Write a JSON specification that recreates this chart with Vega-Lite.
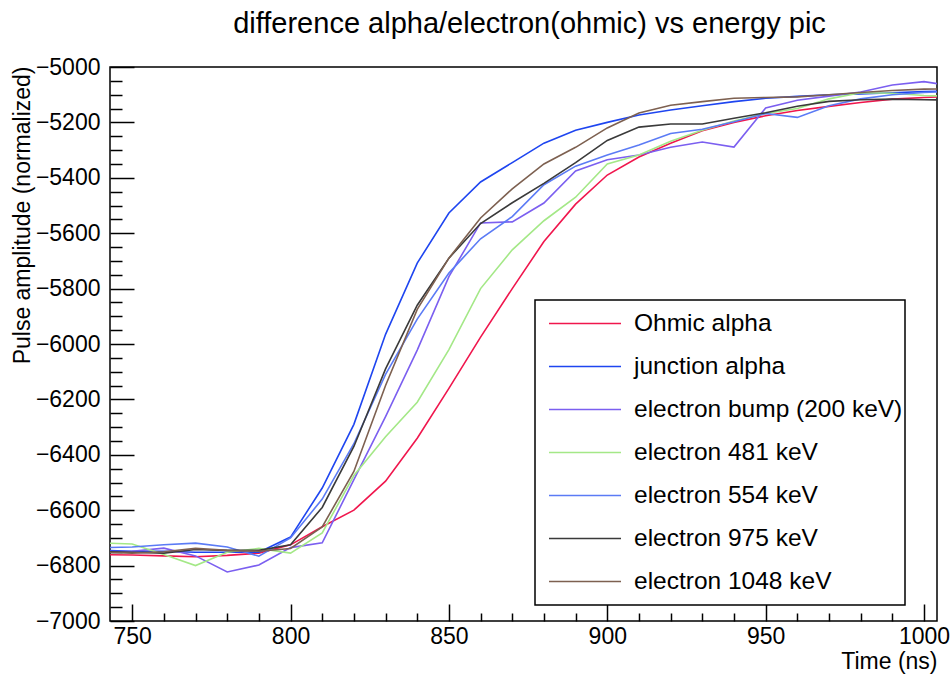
{
  "$schema": "https://vega.github.io/schema/vega-lite/v6.json",
  "width": 827,
  "height": 554,
  "autosize": {"type": "none"},
  "padding": {"left": 110, "top": 67, "right": 14, "bottom": 53},
  "background": "white",
  "title": {"text": "difference alpha/electron(ohmic) vs energy pic", "font": "Liberation Sans", "fontSize": 29, "fontWeight": "normal", "color": "black", "anchor": "middle", "offset": 17, "dx": 6},
  "config": {"view": {"stroke": "black", "strokeWidth": 1.5}, "font": "Liberation Sans"},
  "data": {"values": [
    {"t": 740, "Ohmic alpha": -6760, "junction alpha": -6745, "electron bump (200 keV)": -6750, "electron 481 keV": -6718, "electron 554 keV": -6735, "electron 975 keV": -6750, "electron 1048 keV": -6752},
    {"t": 750, "Ohmic alpha": -6762, "junction alpha": -6748, "electron bump (200 keV)": -6748, "electron 481 keV": -6722, "electron 554 keV": -6733, "electron 975 keV": -6752, "electron 1048 keV": -6755},
    {"t": 760, "Ohmic alpha": -6765, "junction alpha": -6748, "electron bump (200 keV)": -6737, "electron 481 keV": -6760, "electron 554 keV": -6725, "electron 975 keV": -6755, "electron 1048 keV": -6750},
    {"t": 770, "Ohmic alpha": -6768, "junction alpha": -6752, "electron bump (200 keV)": -6765, "electron 481 keV": -6800, "electron 554 keV": -6719, "electron 975 keV": -6742, "electron 1048 keV": -6738},
    {"t": 780, "Ohmic alpha": -6763, "junction alpha": -6752, "electron bump (200 keV)": -6823, "electron 481 keV": -6752, "electron 554 keV": -6733, "electron 975 keV": -6745, "electron 1048 keV": -6745},
    {"t": 790, "Ohmic alpha": -6755, "junction alpha": -6752, "electron bump (200 keV)": -6798, "electron 481 keV": -6738, "electron 554 keV": -6766, "electron 975 keV": -6745, "electron 1048 keV": -6748},
    {"t": 800, "Ohmic alpha": -6725, "junction alpha": -6697, "electron bump (200 keV)": -6735, "electron 481 keV": -6755, "electron 554 keV": -6700, "electron 975 keV": -6725, "electron 1048 keV": -6738},
    {"t": 810, "Ohmic alpha": -6660, "junction alpha": -6520, "electron bump (200 keV)": -6718, "electron 481 keV": -6682, "electron 554 keV": -6560, "electron 975 keV": -6590, "electron 1048 keV": -6660},
    {"t": 820, "Ohmic alpha": -6600, "junction alpha": -6290, "electron bump (200 keV)": -6490, "electron 481 keV": -6475, "electron 554 keV": -6360, "electron 975 keV": -6370, "electron 1048 keV": -6460},
    {"t": 830, "Ohmic alpha": -6495, "junction alpha": -5965, "electron bump (200 keV)": -6262, "electron 481 keV": -6335, "electron 554 keV": -6110, "electron 975 keV": -6090, "electron 1048 keV": -6150},
    {"t": 840, "Ohmic alpha": -6340, "junction alpha": -5708, "electron bump (200 keV)": -6022, "electron 481 keV": -6210, "electron 554 keV": -5910, "electron 975 keV": -5860, "electron 1048 keV": -5875},
    {"t": 850, "Ohmic alpha": -6160, "junction alpha": -5527, "electron bump (200 keV)": -5757, "electron 481 keV": -6020, "electron 554 keV": -5744, "electron 975 keV": -5690, "electron 1048 keV": -5690},
    {"t": 860, "Ohmic alpha": -5975, "junction alpha": -5415, "electron bump (200 keV)": -5563, "electron 481 keV": -5800, "electron 554 keV": -5620, "electron 975 keV": -5565, "electron 1048 keV": -5545},
    {"t": 870, "Ohmic alpha": -5800, "junction alpha": -5345, "electron bump (200 keV)": -5559, "electron 481 keV": -5660, "electron 554 keV": -5540, "electron 975 keV": -5490, "electron 1048 keV": -5440},
    {"t": 880, "Ohmic alpha": -5630, "junction alpha": -5275, "electron bump (200 keV)": -5491, "electron 481 keV": -5555, "electron 554 keV": -5425, "electron 975 keV": -5420, "electron 1048 keV": -5350},
    {"t": 890, "Ohmic alpha": -5495, "junction alpha": -5228, "electron bump (200 keV)": -5375, "electron 481 keV": -5470, "electron 554 keV": -5358, "electron 975 keV": -5345, "electron 1048 keV": -5290},
    {"t": 900, "Ohmic alpha": -5390, "junction alpha": -5200, "electron bump (200 keV)": -5335, "electron 481 keV": -5350, "electron 554 keV": -5318, "electron 975 keV": -5265, "electron 1048 keV": -5220},
    {"t": 910, "Ohmic alpha": -5325, "junction alpha": -5173, "electron bump (200 keV)": -5318, "electron 481 keV": -5318, "electron 554 keV": -5282, "electron 975 keV": -5217, "electron 1048 keV": -5166},
    {"t": 920, "Ohmic alpha": -5275, "junction alpha": -5155, "electron bump (200 keV)": -5290, "electron 481 keV": -5268, "electron 554 keV": -5240, "electron 975 keV": -5206, "electron 1048 keV": -5138},
    {"t": 930, "Ohmic alpha": -5230, "junction alpha": -5140, "electron bump (200 keV)": -5271, "electron 481 keV": -5228, "electron 554 keV": -5225, "electron 975 keV": -5206, "electron 1048 keV": -5125},
    {"t": 940, "Ohmic alpha": -5200, "junction alpha": -5125, "electron bump (200 keV)": -5289, "electron 481 keV": -5195, "electron 554 keV": -5198, "electron 975 keV": -5185, "electron 1048 keV": -5113},
    {"t": 950, "Ohmic alpha": -5176, "junction alpha": -5113, "electron bump (200 keV)": -5148, "electron 481 keV": -5168, "electron 554 keV": -5168, "electron 975 keV": -5165, "electron 1048 keV": -5110},
    {"t": 960, "Ohmic alpha": -5157, "junction alpha": -5106, "electron bump (200 keV)": -5120, "electron 481 keV": -5150, "electron 554 keV": -5182, "electron 975 keV": -5142, "electron 1048 keV": -5108},
    {"t": 970, "Ohmic alpha": -5142, "junction alpha": -5100, "electron bump (200 keV)": -5105, "electron 481 keV": -5115, "electron 554 keV": -5140, "electron 975 keV": -5124, "electron 1048 keV": -5100},
    {"t": 980, "Ohmic alpha": -5128, "junction alpha": -5097, "electron bump (200 keV)": -5090, "electron 481 keV": -5093, "electron 554 keV": -5115, "electron 975 keV": -5118, "electron 1048 keV": -5092},
    {"t": 990, "Ohmic alpha": -5116, "junction alpha": -5093, "electron bump (200 keV)": -5065, "electron 481 keV": -5095, "electron 554 keV": -5100, "electron 975 keV": -5116, "electron 1048 keV": -5085},
    {"t": 1000, "Ohmic alpha": -5110, "junction alpha": -5089, "electron bump (200 keV)": -5053, "electron 481 keV": -5103, "electron 554 keV": -5092, "electron 975 keV": -5118, "electron 1048 keV": -5080},
    {"t": 1010, "Ohmic alpha": -5106, "junction alpha": -5086, "electron bump (200 keV)": -5070, "electron 481 keV": -5106, "electron 554 keV": -5088, "electron 975 keV": -5120, "electron 1048 keV": -5078}
  ]},
  "transform": [{"fold": ["Ohmic alpha", "junction alpha", "electron bump (200 keV)", "electron 481 keV", "electron 554 keV", "electron 975 keV", "electron 1048 keV"], "as": ["series", "v"]}],
  "mark": {"type": "line", "clip": true, "strokeWidth": 1.6},
  "encoding": {
    "x": {
      "field": "t", "type": "quantitative",
      "scale": {"domain": [743, 1004.1], "nice": false, "zero": false},
      "axis": {
        "values": [750, 760, 770, 780, 790, 800, 810, 820, 830, 840, 850, 860, 870, 880, 890, 900, 910, 920, 930, 940, 950, 960, 970, 980, 990, 1000],
        "format": "d",
        "labelExpr": "datum.value % 50 === 0 ? datum.label : ''",
        "grid": false, "domain": false,
        "tickColor": "black", "tickWidth": 1.5,
        "tickSize": {"condition": {"test": "datum.value % 50 === 0", "value": -17}, "value": -8},
        "labelPadding": 21, "labelFontSize": 23, "labelFont": "Liberation Sans", "labelColor": "black",
        "labelOverlap": false, "labelFlush": false,
        "title": "Time (ns)", "titleFont": "Liberation Sans", "titleFontSize": 23, "titleFontWeight": "normal", "titleColor": "black",
        "titleAnchor": "end", "titleAlign": "right", "titleX": 827, "titleY": 47, "titleBaseline": "alphabetic"
      }
    },
    "y": {
      "field": "v", "type": "quantitative",
      "scale": {"domain": [-7000, -5000], "nice": false, "zero": false},
      "axis": {
        "values": [-7000, -6950, -6900, -6850, -6800, -6750, -6700, -6650, -6600, -6550, -6500, -6450, -6400, -6350, -6300, -6250, -6200, -6150, -6100, -6050, -6000, -5950, -5900, -5850, -5800, -5750, -5700, -5650, -5600, -5550, -5500, -5450, -5400, -5350, -5300, -5250, -5200, -5150, -5100, -5050, -5000],
        "format": "d",
        "labelExpr": "datum.value % 200 === 0 ? datum.label : ''",
        "grid": false, "domain": false,
        "tickColor": "black", "tickWidth": 1.5,
        "tickSize": {"condition": {"test": "datum.value % 200 === 0", "value": -24}, "value": -12},
        "labelPadding": 34, "labelFontSize": 23, "labelFont": "Liberation Sans", "labelColor": "black",
        "labelOverlap": false, "labelFlush": false,
        "title": "Pulse amplitude (normalized)", "titleFont": "Liberation Sans", "titleFontSize": 23, "titleFontWeight": "normal", "titleColor": "black",
        "titleAnchor": "end", "titleAlign": "right", "titleAngle": -90, "titleX": -81, "titleY": -1, "titleBaseline": "alphabetic"
      }
    },
    "color": {
      "field": "series", "type": "nominal",
      "scale": {
        "domain": ["Ohmic alpha", "junction alpha", "electron bump (200 keV)", "electron 481 keV", "electron 554 keV", "electron 975 keV", "electron 1048 keV"],
        "range": ["#f0164d", "#1e45f0", "#7b5ff0", "#a4e887", "#5b7bf5", "#3a3a3a", "#7d6050"]
      },
      "legend": {
        "orient": "none", "legendX": 425, "legendY": 233,
        "title": null,
        "strokeColor": "black", "fillColor": "white",
        "padding": 2,
        "symbolType": "stroke", "symbolSize": 5184, "symbolStrokeWidth": 1.6, "symbolOffset": 11,
        "labelOffset": 12, "labelFontSize": 24.5, "labelFont": "Liberation Sans", "labelColor": "black", "labelLimit": 500,
        "clipHeight": 43, "rowPadding": 0,
        "encode": {"legend": {"update": {"strokeWidth": {"value": 1.5}, "width": {"value": 403}}}}
      }
    }
  }
}
